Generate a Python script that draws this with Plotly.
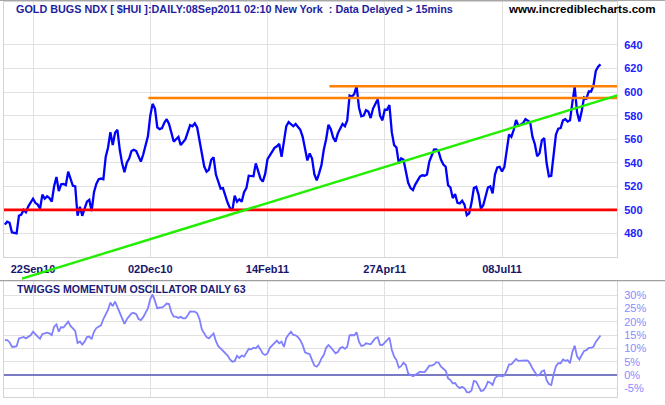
import plotly.graph_objects as go

# ---------------- data ----------------
DAY_INDEX = list(range(255))  # trading days 03Sep2010 .. 07Sep2011
DATE_TICK_INDEX = [12, 62, 112, 162, 212]
DATE_TICK_LABELS = ["22Sep10", "02Dec10", "14Feb11", "27Apr11", "08Jul11"]

PRICE = [
    487.5, 490, 489, 481, 480.5, 480, 495, 496, 500, 498,
    503, 506.5, 509.5, 506, 504.5, 501, 513, 509.5, 511.5, 510,
    507, 520, 528, 516, 521.7, 522, 521, 532.5, 527, 520.5,
    520, 495, 502.6, 495, 501, 507, 508.6, 499, 515, 522,
    526, 526.6, 526, 545, 553, 566, 555, 565.5, 568, 551,
    539.5, 532, 540, 543.5, 550, 551, 550, 546, 541, 547,
    556, 562.5, 580, 590, 586, 570, 568.6, 569.4, 574, 577,
    573, 565, 558, 560, 562, 555, 558, 560, 566, 572,
    571, 573.5, 570, 559, 546, 537, 532.5, 534, 542.5, 544.6,
    530, 523, 518, 518.5, 511.5, 506, 501.5, 499.5, 512, 507,
    509, 507, 515, 518.5, 529, 528.8, 528.5, 539.5, 533, 526.5,
    524, 530.5, 543, 546, 549.8, 552.7, 554, 556, 545, 557,
    571, 574.5, 573, 571, 573, 570, 568, 562, 551, 542,
    548, 543.5, 530, 525, 531, 538, 551, 560, 572.3, 568.5,
    561.5, 558, 565, 569.4, 573, 571, 576, 597, 596, 598.5,
    605, 587, 579.4, 580, 584.6, 583.5, 578, 586, 590.5, 594,
    580, 576, 585, 585, 589, 566, 555, 553, 539.5, 543.7,
    542.5, 533, 523, 518.5, 516.8, 521.5, 525, 528.3, 529.4, 529,
    530, 541, 546, 551.2, 551.4, 549.2, 542.5, 538.5, 536.6, 521,
    519, 510, 513.5, 506, 505.5, 507.8, 504.5, 495.5, 497, 506,
    518.5, 519.5, 513, 501, 504, 510.7, 519, 520, 514, 530,
    536, 536.6, 532.5, 536.5, 552.5, 564, 562, 568, 576.3, 571.5,
    572.5, 573.7, 577, 575.5, 574.5, 562, 556, 545.5, 548, 559,
    561, 540, 528.5, 529, 549, 564, 569, 569.5, 576, 577,
    575, 576, 591, 604.5, 583, 575, 584, 595.5, 594.5, 600.6,
    600.5, 605.5, 618, 621.5, 623.5,
]

MOMENTUM = [
    13.1, 13.1, 12.3, 10.6, 10.6, 10.8, 13.7, 13.9, 14.3, 13.75,
    14.3, 14.9, 16.25, 15.1, 14.4, 13.6, 15.4, 15.6, 15.9, 15.6,
    15, 18.1, 19, 16.25, 18, 17.8, 18.7, 20, 18.4, 17.5,
    16.5, 12, 12.6, 11.4, 12.5, 14.2, 14.4, 13.4, 16.2, 17.6,
    18.1, 18.6, 21, 22.5, 24.5, 27.2, 25.8, 27.5, 25.5, 23.6,
    21.3, 19.2, 20.9, 22, 23.1, 23.3, 22.8, 21, 20.6, 21.7,
    23.1, 25, 28.5, 30.2, 27.8, 25, 25.3, 25.25, 25.9, 26.8,
    26.6, 23.5, 21.9, 21.9, 21.4, 21.8, 21.25, 21.25, 22.4, 23.8,
    23.75, 23.75, 23.1, 21, 17.1, 15.5, 14.2, 13.75, 14.6, 15.6,
    12.7, 10.8, 10, 9.2, 8.2, 7.3, 5.8, 5, 5.2, 7.2,
    6.4, 7.3, 6.9, 8.4, 9.8, 9.6, 10.2, 10, 11, 9.6,
    8, 7.5, 8.1, 10.2, 11.1, 11.7, 12.9, 11.9, 12.5, 10.5,
    13.9, 15.2, 16.25, 15, 14.9, 14.2, 13, 11.2, 8.5, 8.1,
    7.8, 5.6, 3.5, 3.1, 4.2, 6.2, 7.5, 10.2, 11.25, 10.4,
    9, 8.1, 8.6, 10.1, 10.5, 9.8, 10.6, 14.9, 15, 14.9,
    16, 12.5, 10.9, 11.1, 11.9, 11.8, 11.5, 12.7, 13.8, 14.2,
    11.3, 11.25, 12.25, 12.9, 14, 9.5, 6.9, 5.6, 2.75, 3.3,
    4.6, 3.75, 0.6, 0, -0.5, 0, 0.6, 1.25, 1.1, 1.1,
    2.2, 3.5, 3.5, 3.9, 4.8, 4.6, 3.1, 2.4, 1.6, -1.25,
    -1.9, -3.1, -3, -4.3, -4.9, -4.4, -5, -6.4, -6.5, -5.8,
    -2.2, -2.5, -4.3, -6, -5.8, -4.6, -2.5, -2.9, -3.7, -1.2,
    -0.4, -0.25, -0.5, -0.2, 1.6, 4, 4, 5, 6, 5.3,
    5.4, 5.6, 5.5, 5.4, 4.2, 2.4, 1.25, -0.25, 0.1, 1.4,
    1.7, -1.9, -3.4, -3.75, 0.2, 3.3, 4.4, 4.4, 5.8, 5.3,
    5.6, 4.4, 8.6, 11, 7, 5.8, 7.5, 9, 9.3, 10.2,
    10.2, 10.6, 12.4, 13.6, 14.8,
]

PRICE_TICKS = [480, 500, 520, 540, 560, 580, 600, 620, 640]
MOM_TICKS = [-5, 0, 5, 10, 15, 20, 25, 30]
MOM_TICK_LABELS = [f"{v}%" for v in MOM_TICKS]

SUPPORT_LEVEL = 500
RESIST_LEVELS = [595, 605]
RESIST_START = [61.2, 138.4]
TREND_X = [7.3, 262.3]
TREND_Y = [441.6, 597.9]

TITLE = "GOLD BUGS NDX [ $HUI ]:DAILY:08Sep2011 02:10 New York\u00a0 : Data Delayed > 15mins"
SITE = "www.incrediblecharts.com"
OSC_TITLE = "TWIGGS MOMENTUM OSCILLATOR DAILY 63"

# ---------------- layout geometry ----------------
W, H = 665, 405
ML, MR, MT, MB = 4, 48, 2, 8
PH = H - MT - MB  # plot height in px


def py(p):
    """pixel row -> paper fraction"""
    return (H - MB - p) / PH


X_RANGE = [-0.37, 261.04]
Y_RANGE = [460, 676.5]
MAIN_DOM = [py(257), 1.0]
OSC_DOM = [0.0, py(281)]
EXT_DOM = [py(281), 1.0]
MOM_RANGE = [-8.25, 35.25]
# extended (invisible) axis with same scale as the main price axis
scale = (Y_RANGE[1] - Y_RANGE[0]) / (MAIN_DOM[1] - MAIN_DOM[0])
EXT_RANGE = [Y_RANGE[1] - scale * (EXT_DOM[1] - EXT_DOM[0]), Y_RANGE[1]]

FONT = "Liberation Sans, Arial, sans-serif"
GRID = "#e1e1e1"
BORDER = "#d4d4d4"

fig = go.Figure()

fig.add_trace(go.Scatter(x=DAY_INDEX, y=PRICE, mode="lines", xaxis="x", yaxis="y",
                         line=dict(color="#0000ff", width=2.3), hoverinfo="skip"))
fig.add_trace(go.Scatter(x=DAY_INDEX, y=MOMENTUM, mode="lines", xaxis="x2", yaxis="y2",
                         line=dict(color="#8080ff", width=1.8), hoverinfo="skip"))

# trend / support / resistance lines (drawn on the extended overlay subplot)
fig.add_trace(go.Scatter(x=[X_RANGE[0], X_RANGE[1]], y=[SUPPORT_LEVEL, SUPPORT_LEVEL],
                         mode="lines", xaxis="x3", yaxis="y3",
                         line=dict(color="#ff0000", width=2.6), hoverinfo="skip"))
for lvl, start in zip(RESIST_LEVELS, RESIST_START):
    fig.add_trace(go.Scatter(x=[start, X_RANGE[1]], y=[lvl, lvl], mode="lines",
                             xaxis="x3", yaxis="y3",
                             line=dict(color="#ff8000", width=2.4), hoverinfo="skip"))
fig.add_trace(go.Scatter(x=TREND_X, y=TREND_Y, mode="lines", xaxis="x3", yaxis="y3",
                         line=dict(color="#22ee00", width=2.4), hoverinfo="skip"))

fig.update_layout(
    width=W, height=H,
    margin=dict(l=ML, r=MR, t=MT, b=MB, pad=0),
    paper_bgcolor="white", plot_bgcolor="rgba(0,0,0,0)",
    showlegend=False,
    font=dict(family=FONT, size=11),
    xaxis=dict(domain=[0, 1], range=X_RANGE, anchor="y",
               tickmode="array", tickvals=DATE_TICK_INDEX, ticktext=DATE_TICK_LABELS,
               showgrid=True, gridcolor=GRID, gridwidth=1, zeroline=False,
               showline=True, mirror=True, linecolor=BORDER, linewidth=1,
               ticks="", tickfont=dict(family=FONT, size=11, color="#16166a", weight=700),
               ticklabelstandoff=2),
    yaxis=dict(domain=MAIN_DOM, range=Y_RANGE, anchor="x", side="right",
               tickmode="array", tickvals=PRICE_TICKS,
               showgrid=True, gridcolor=GRID, gridwidth=1, zeroline=False,
               showline=True, mirror=True, linecolor=BORDER, linewidth=1,
               ticks="", tickfont=dict(family=FONT, size=11, color="#2222ff", weight=700),
               ticklabelstandoff=4),
    xaxis2=dict(domain=[0, 1], range=X_RANGE, anchor="y2",
                tickmode="array", tickvals=DATE_TICK_INDEX, showticklabels=False,
                showgrid=True, gridcolor=GRID, gridwidth=1, zeroline=False,
                showline=True, mirror=True, linecolor=BORDER, linewidth=1, ticks=""),
    yaxis2=dict(domain=OSC_DOM, range=MOM_RANGE, anchor="x2", side="right",
                tickmode="array", tickvals=MOM_TICKS, ticktext=MOM_TICK_LABELS,
                showgrid=True, gridcolor=GRID, gridwidth=1,
                zeroline=True, zerolinecolor="#7a7ac4", zerolinewidth=1.5,
                showline=True, mirror=True, linecolor=BORDER, linewidth=1,
                ticks="", tickfont=dict(family=FONT, size=11, color="#8a8aff"),
                ticklabelstandoff=4),
    xaxis3=dict(domain=[0, 1], range=X_RANGE, anchor="y3", visible=False),
    yaxis3=dict(domain=EXT_DOM, range=EXT_RANGE, anchor="x3", visible=False),
)

# frame separators
fig.add_shape(type="line", xref="paper", yref="paper", x0=-ML / 613, x1=(W - ML) / 613,
              y0=py(0.5), y1=py(0.5), line=dict(color="#a8a8a8", width=1.2), layer="above")
fig.add_shape(type="line", xref="paper", yref="paper", x0=-ML / 613, x1=(W - ML) / 613,
              y0=py(280.7), y1=py(280.7), line=dict(color="#a0a0a0", width=1.2), layer="above")

# texts
fig.add_annotation(text=TITLE, xref="paper", yref="paper", x=(14 - ML) / 613, y=py(9),
                   xanchor="left", yanchor="middle", showarrow=False,
                   font=dict(family=FONT, size=10.8, color="#1e1ea0", weight=700))
fig.add_annotation(text=SITE, xref="paper", yref="paper", x=(657 - ML) / 613, y=py(9),
                   xanchor="right", yanchor="middle", showarrow=False,
                   font=dict(family=FONT, size=11.6, color="#000000", weight=700))
fig.add_annotation(text=OSC_TITLE, xref="paper", yref="paper", x=(15 - ML) / 613, y=py(289),
                   xanchor="left", yanchor="middle", showarrow=False,
                   font=dict(family=FONT, size=10.6, color="#1a1a7a", weight=700))

fig.write_html("out.html")
